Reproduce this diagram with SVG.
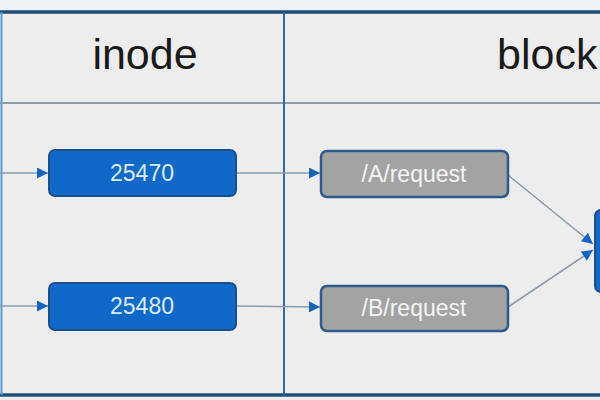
<svg xmlns="http://www.w3.org/2000/svg" width="600" height="400" viewBox="0 0 600 400">
  <defs>
    <marker id="arr" viewBox="0 0 10 10" refX="10" refY="5" markerWidth="13" markerHeight="11" orient="auto" markerUnits="userSpaceOnUse">
      <path d="M0,0 L10,5 L0,10 Z" fill="#1565c0"/>
    </marker>
    <style>
      .hdr { font-family: "Liberation Sans", Arial, sans-serif; font-size: 43px; fill: #1a1a1a; text-anchor: middle; }
      .lbl { font-family: "Liberation Sans", Arial, sans-serif; font-size: 23px; text-anchor: middle; }
      .blue rect { fill: #1068c8; stroke: #1b4f8c; stroke-width: 2; }
      .blue text { fill: #dcecff; }
      .gray rect { fill: #a3a3a3; stroke: #2f5b8c; stroke-width: 2.5; }
      .gray text { fill: #f4f4f4; }
      .conn { stroke: #8a9bb0; stroke-width: 1.6; fill: none; }
      .frame-dark { stroke: #1f4e7a; stroke-width: 3.5; }
    </style>
  </defs>
  <rect x="0" y="0" width="600" height="400" fill="#ededed"/>
  <rect x="0" y="0" width="600" height="10" fill="#eef2f6"/>
  <g id="frame">
    <line x1="0" y1="12" x2="600" y2="12" class="frame-dark"/>
    <line x1="0" y1="395" x2="600" y2="395" class="frame-dark"/>
    <line x1="1.5" y1="12" x2="1.5" y2="395" stroke="#5b9bd5" stroke-width="2"/>
    <line x1="0" y1="103" x2="600" y2="103" stroke="#8c9aab" stroke-width="2"/>
    <line x1="284" y1="12" x2="284" y2="395" stroke="#2e6aa8" stroke-width="2"/>
  </g>
  <text class="hdr" x="145" y="69">inode</text>
  <text x="497" y="69" style="font-family:'Liberation Sans',Arial,sans-serif;font-size:43px;fill:#1a1a1a">block</text>
  <g id="connectors">
    <line class="conn" x1="0" y1="173" x2="48" y2="173" marker-end="url(#arr)"/>
    <line class="conn" x1="0" y1="306" x2="48" y2="306" marker-end="url(#arr)"/>
    <line class="conn" x1="236" y1="173" x2="320" y2="173" marker-end="url(#arr)"/>
    <line class="conn" x1="236" y1="306" x2="320" y2="307" marker-end="url(#arr)"/>
    <line class="conn" x1="508" y1="175" x2="593" y2="244" marker-end="url(#arr)"/>
    <line class="conn" x1="508" y1="307" x2="593" y2="250" marker-end="url(#arr)"/>
  </g>
  <g id="n25470" class="blue">
    <rect x="49" y="150" width="187" height="46" rx="6"/>
    <text class="lbl" x="142" y="181">25470</text>
  </g>
  <g id="n25480" class="blue">
    <rect x="49" y="283" width="187" height="47" rx="6"/>
    <text class="lbl" x="142" y="314">25480</text>
  </g>
  <g id="nA" class="gray">
    <rect x="321" y="151" width="187" height="46" rx="6"/>
    <text class="lbl" x="414" y="182">/A/request</text>
  </g>
  <g id="nB" class="gray">
    <rect x="321" y="286" width="187" height="45" rx="6"/>
    <text class="lbl" x="414" y="316">/B/request</text>
  </g>
  <g id="nBlock" class="blue">
    <rect x="595" y="210" width="40" height="82" rx="6"/>
  </g>
</svg>
